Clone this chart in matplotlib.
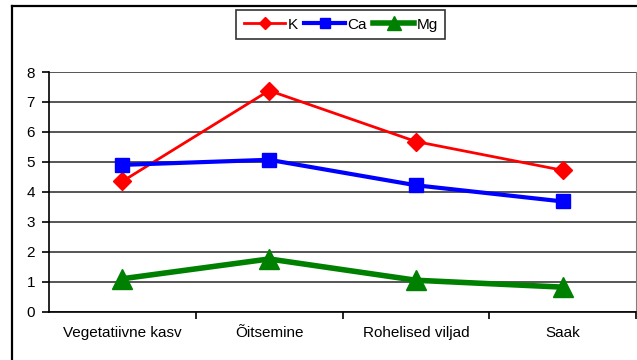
import matplotlib.pyplot as plt
from matplotlib.lines import Line2D

plt.rcParams['font.family'] = ['Liberation Sans', 'DejaVu Sans']

stages = ["Vegetatiivne kasv", "Õitsemine", "Rohelised viljad", "Saak"]
k_vals = [4.35, 7.38, 5.68, 4.72]
ca_vals = [4.9, 5.07, 4.22, 3.68]
mg_vals = [1.1, 1.76, 1.05, 0.82]

fig = plt.figure(figsize=(6.37, 3.6), dpi=100)
ax = fig.add_axes([49 / 637, 1 - 311.7 / 360, 587 / 637, (311.7 - 72) / 360])

x = range(len(stages))
ax.plot(x, k_vals, color='#ff0000', lw=2, marker='D', ms=9, label='K')
ax.plot(x, ca_vals, color='#0000ff', lw=3, marker='s', ms=10, label='Ca')
ax.plot(x, mg_vals, color='#008000', lw=4, marker='^', ms=14, label='Mg')

ax.set_ylim(0, 8)
ax.set_xlim(-0.5, len(stages) - 0.5)
ax.set_yticks(range(9))
ax.yaxis.grid(True, color='#555555', lw=1.4)
ax.set_axisbelow(True)

# category labels centred, ticks on the category boundaries
ax.set_xticks(list(x))
ax.set_xticklabels(stages)
ax.set_xticks([i + 0.5 for i in x], minor=True)
ax.tick_params(axis='x', which='major', length=0, pad=10, labelsize=11)
ax.tick_params(axis='x', which='minor', length=5, width=1.2, direction='out')
ax.tick_params(axis='y', length=5, width=1.2, labelsize=11, pad=5)

ax.spines['top'].set_visible(False)
ax.spines['right'].set_color('#808080')
ax.spines['left'].set_linewidth(1.2)
ax.spines['bottom'].set_linewidth(1.2)

leg = fig.legend(loc='upper center', bbox_to_anchor=(341 / 637, 1 - 10 / 360), ncol=3,
                 frameon=True, fancybox=False, edgecolor='black', fontsize=11,
                 handlelength=2.7, handletextpad=0.15, columnspacing=0.4,
                 borderpad=0.5, borderaxespad=0, markerscale=0.7)
leg.get_frame().set_linewidth(1.2)

# outer chart frame
fig.add_artist(Line2D([12 / 637, 12 / 637], [0, 1 - 5.5 / 360], color='black', lw=1.6))
fig.add_artist(Line2D([12 / 637, 1], [1 - 5.5 / 360, 1 - 5.5 / 360], color='black', lw=1.6))

fig.savefig('out.png', dpi=100)
